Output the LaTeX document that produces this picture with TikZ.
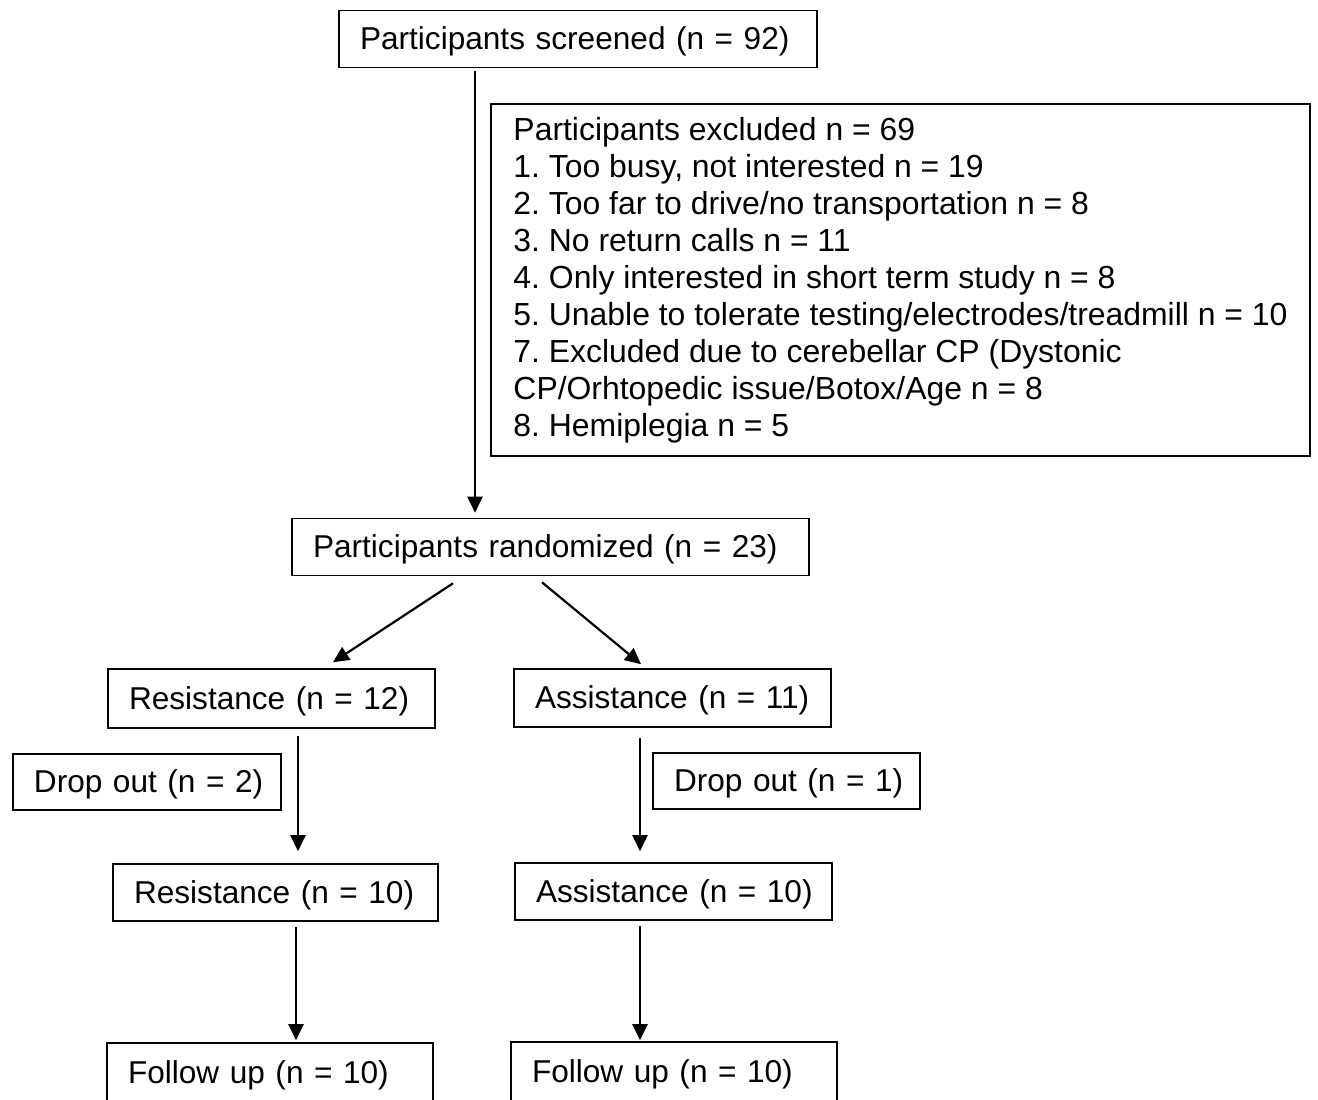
\documentclass[tikz,border=0pt]{standalone}
\usepackage{fontspec}
\setmainfont{Liberation Sans}
\usepackage{tikz}
\usetikzlibrary{arrows,shapes,positioning,fit,arrows.meta,backgrounds,calc}

\tikzset{
  box/.style={draw, line width=1.6pt, inner xsep=21pt, inner ysep=0pt, align=left,
    minimum height=57pt, font=\fontsize{31.6}{37}\selectfont\frenchspacing},
  onebox/.style={box, text height=23pt, text depth=2pt},
  arr/.style={line width=2.2pt, -{Triangle[length=16pt,width=15pt]}}
}

\begin{document}
\begin{tikzpicture}[x=1pt,y=-1pt]
\path[use as bounding box, clip] (0,0) rectangle (1318,1100);
\node[onebox,text width=436pt] (screened) at (578,39) {\mbox{Participants screened (n = 92)}};
\node[box,minimum width=819pt,minimum height=352pt,font=\fontsize{31.9}{37}\selectfont\frenchspacing] (excluded) at (900.5,280) {Participants excluded n = 69\\
1. Too busy, not interested n = 19\\
2. Too far to drive/no transportation n = 8\\
3. No return calls n = 11\\
4. Only interested in short term study n = 8\\
5. Unable to tolerate testing/electrodes/treadmill n = 10\\
7. Excluded due to cerebellar CP (Dystonic\\
CP/Orhtopedic issue/Botox/Age n = 8\\
8. Hemiplegia n = 5};
\node[onebox,text width=475pt] (random) at (550.5,547) {\mbox{Participants randomized (n = 23)}};
\node[onebox,text width=285pt,minimum height=59pt] (resist1) at (271.5,698.5) {\mbox{Resistance (n = 12)}};
\node[onebox,text width=275pt,minimum height=58pt] (assist1) at (672.5,698) {\mbox{Assistance (n = 11)}};
\node[onebox,text width=226pt,minimum height=56pt] (drop1) at (147,782) {\mbox{Drop out (n = 2)}};
\node[onebox,text width=225pt,minimum height=56pt] (drop2) at (786.5,781) {\mbox{Drop out (n = 1)}};
\node[onebox,text width=283pt] (resist2) at (275.5,892.5) {\mbox{Resistance (n = 10)}};
\node[onebox,text width=275pt] (assist2) at (673.5,891.5) {\mbox{Assistance (n = 10)}};
\node[onebox,text width=284pt,minimum height=60pt] (follow1) at (270,1073) {\mbox{Follow up (n = 10)}};
\node[onebox,text width=284pt,minimum height=60pt] (follow2) at (674,1072) {\mbox{Follow up (n = 10)}};

\draw[arr,shorten <=3pt,shorten >=5pt] ([xshift=-103pt]screened.south) -- ([xshift=-103pt]screened.south |- random.north);
\draw[arr] ([xshift=-97.5pt,yshift=-7pt]random.south) -- ([xshift=61.5pt,yshift=6pt]resist1.north);
\draw[arr] ([xshift=-8.5pt,yshift=-6pt]random.south) -- ([xshift=-31.5pt,yshift=4pt]assist1.north);
\draw[arr,shorten <=7pt,shorten >=12pt] ([xshift=26.5pt]resist1.south) -- ([xshift=26.5pt]resist1.south |- resist2.north);
\draw[arr,shorten <=5pt,shorten >=2pt] ([xshift=20.5pt]resist2.south) -- ([xshift=20.5pt]resist2.south |- follow1.north);
\draw[arr,shorten <=10pt,shorten >=11pt] ([xshift=-32.5pt]assist1.south) -- ([xshift=-32.5pt]assist1.south |- assist2.north);
\draw[arr,shorten <=5pt,shorten >=1pt] ([xshift=-33.5pt]assist2.south) -- ([xshift=-33.5pt]assist2.south |- follow2.north);
\end{tikzpicture}
\end{document}
